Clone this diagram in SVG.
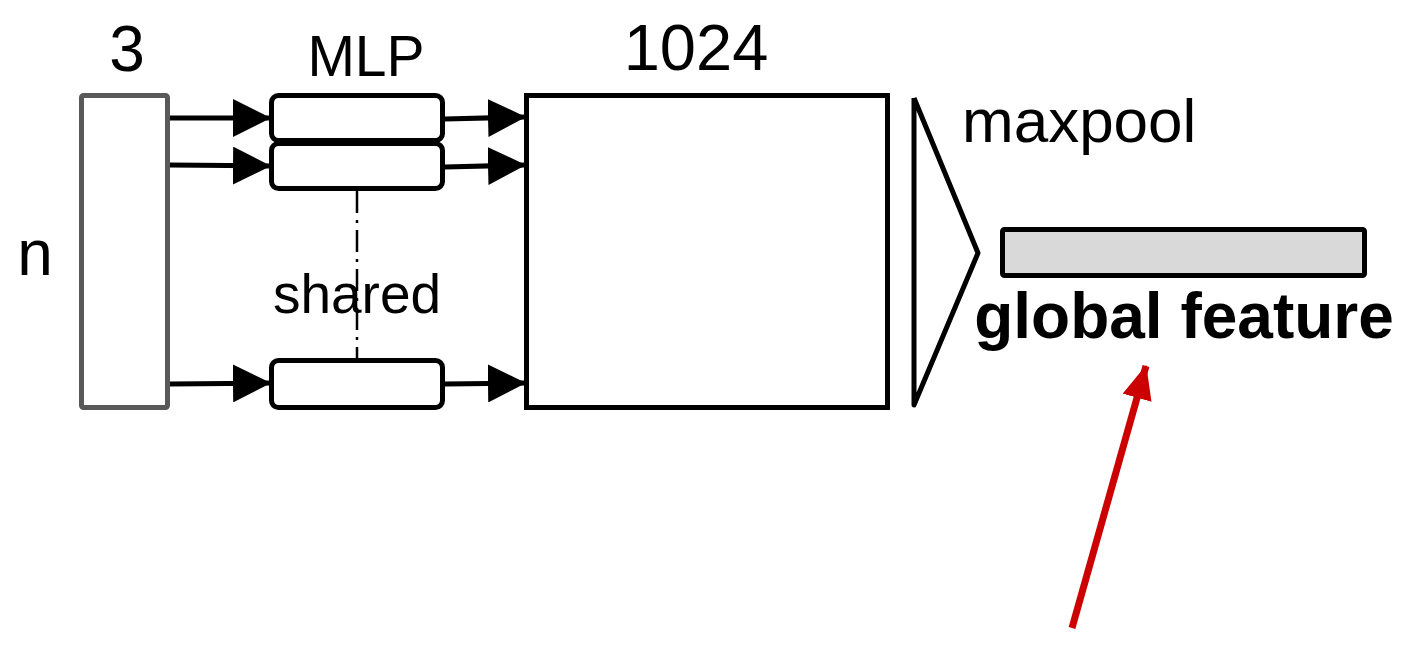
<svg xmlns="http://www.w3.org/2000/svg" width="1414" height="649" viewBox="0 0 1414 649">
<style>
.t{font-family:"Liberation Sans",Arial,sans-serif;fill:#000}
.box{fill:#fff;stroke:#000;stroke-width:5}
.ln{stroke:#000;stroke-width:5;fill:none}
</style>
<defs>
<marker id="ah" markerUnits="userSpaceOnUse" markerWidth="38" markerHeight="38" viewBox="0 0 38 38" refX="37" refY="19" orient="auto">
<path d="M0,0 L38,19 L0,38 z" fill="#000"/>
</marker>
<marker id="rh" markerUnits="userSpaceOnUse" markerWidth="34" markerHeight="30" viewBox="0 0 34 30" refX="33" refY="15" orient="auto">
<path d="M0,0 L34,15 L0,30 z" fill="#cc0000"/>
</marker>
</defs>
<rect width="1414" height="649" fill="#fff"/>
<g id="input">
<rect x="81.5" y="95.5" width="86" height="312" rx="2" fill="#fff" stroke="#595959" stroke-width="5"/>
<text class="t" x="127" y="71" font-size="64" text-anchor="middle">3</text>
<text class="t" x="35" y="275" font-size="64" text-anchor="middle">n</text>
</g>
<g id="mlp">
<text class="t" x="366" y="76" font-size="57" text-anchor="middle">MLP</text>
<rect class="box" x="271.5" y="95.5" width="171" height="45" rx="7"/>
<rect class="box" x="271.5" y="143.5" width="171" height="45" rx="7"/>
<rect class="box" x="271.5" y="360.5" width="171" height="47" rx="7"/>
<line x1="357" y1="191" x2="357" y2="358" stroke="#000" stroke-width="2.5" stroke-dasharray="22 7 3 7"/>
<text class="t" x="357" y="313" font-size="55" text-anchor="middle">shared</text>
</g>
<g id="features">
<rect class="box" x="526.5" y="95.5" width="361" height="312"/>
<text class="t" x="696" y="70" font-size="65" text-anchor="middle">1024</text>
</g>
<g id="maxpool">
<polyline points="914,98 978,253 914,405 914,98" fill="none" stroke="#000" stroke-width="5" stroke-linejoin="round"/>
<text class="t" x="962" y="142" font-size="62">maxpool</text>
</g>
<g id="global">
<rect x="1002.5" y="229.5" width="362" height="46" rx="2" fill="#d9d9d9" stroke="#000" stroke-width="5"/>
<text class="t" x="1184" y="338" font-size="64" font-weight="bold" text-anchor="middle">global feature</text>
</g>
<g id="connectors">
<path class="ln" d="M170,118 L270,118" marker-end="url(#ah)"/>
<path class="ln" d="M170,165 L270,166" marker-end="url(#ah)"/>
<path class="ln" d="M170,384 L270,383" marker-end="url(#ah)"/>
<path class="ln" d="M445,119 L525,117" marker-end="url(#ah)"/>
<path class="ln" d="M445,167 L525,165" marker-end="url(#ah)"/>
<path class="ln" d="M445,384 L525,383" marker-end="url(#ah)"/>
<path d="M1072,628 L1146,366" stroke="#cc0000" stroke-width="7" fill="none" marker-end="url(#rh)"/>
</g>
</svg>
